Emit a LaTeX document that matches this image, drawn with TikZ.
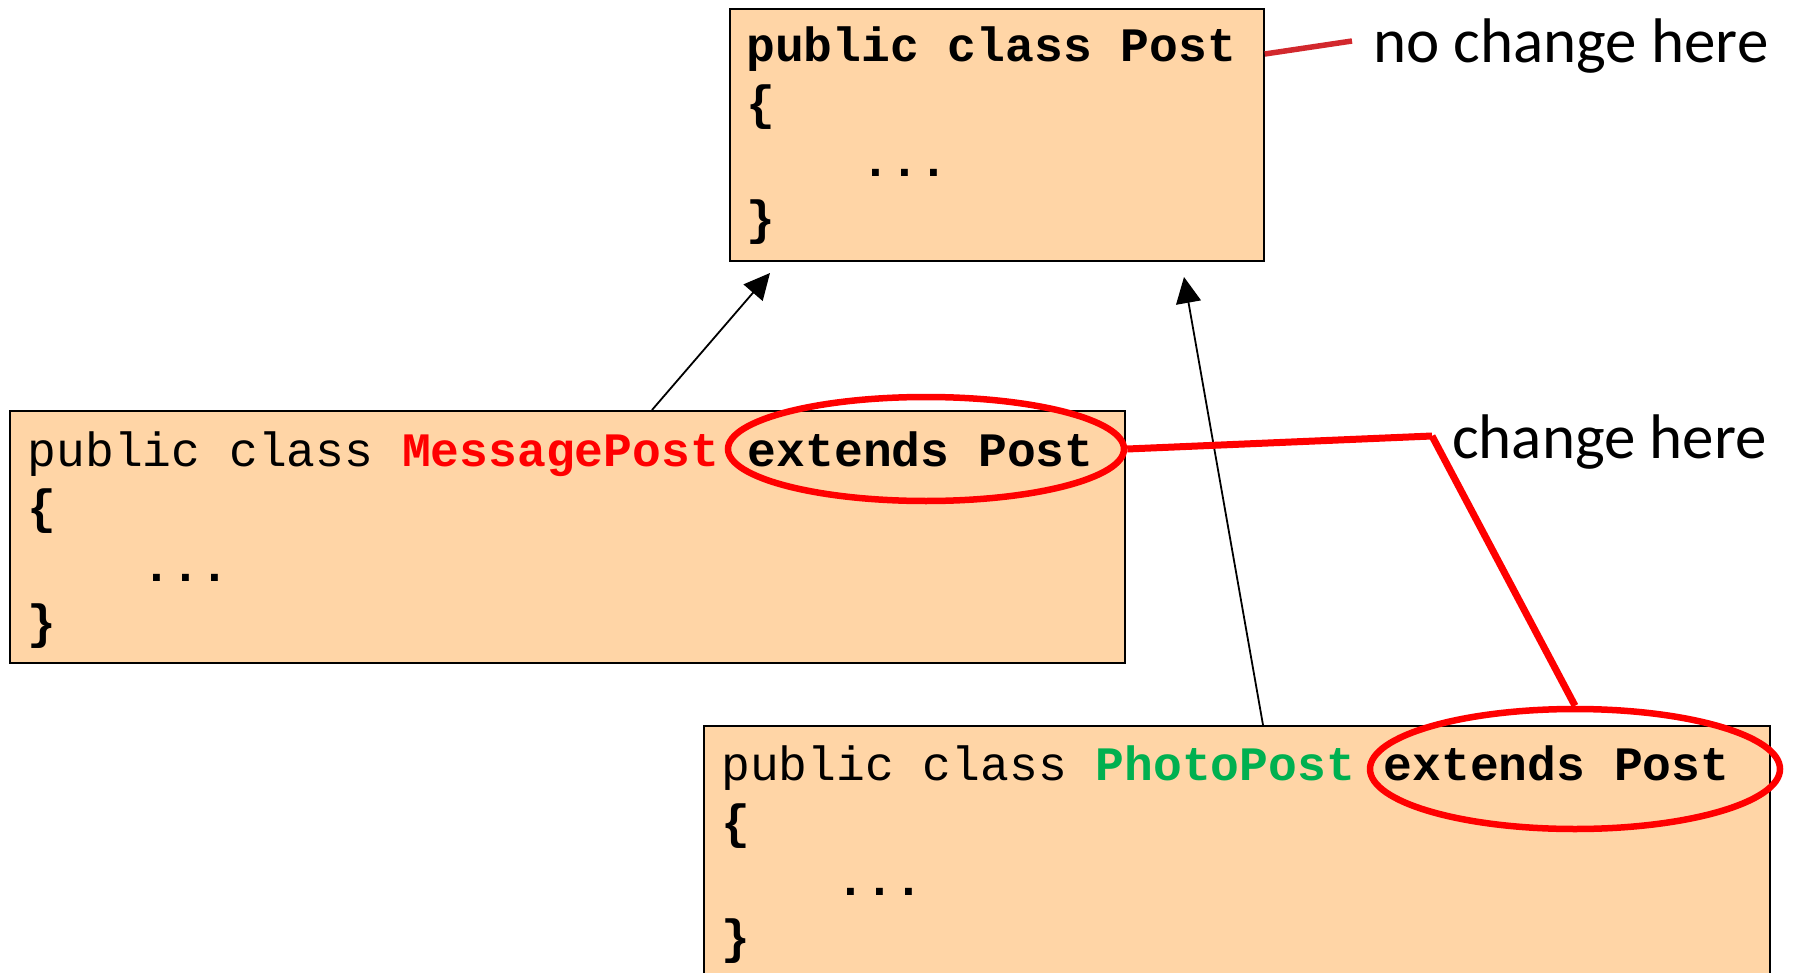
\documentclass[tikz,border=0pt]{standalone}
\usepackage{fontspec}
\setmonofont{Liberation Mono}
\newfontfamily\calib{Carlito}
\usetikzlibrary{arrows.meta,calc,shapes.geometric}
\definecolor{peach}{RGB}{255,213,166}
\definecolor{hlred}{RGB}{255,0,0}
\definecolor{darkred}{RGB}{210,40,45}
\definecolor{pgreen}{RGB}{0,176,80}
\begin{document}
\begin{tikzpicture}[x=1pt,y=-1pt,
  classbox/.style={draw=black,line width=1.8pt,fill=peach,inner sep=0pt,anchor=north west},
  codetext/.style={inner sep=0pt,anchor=base west,font=\ttfamily\fontsize{48}{57.5}\selectfont},
  inherit/.style={-{Triangle[length=26pt,width=25pt]},line width=1.8pt},
  redmark/.style={draw=hlred,line width=7pt},
  ring/.style={draw=hlred,line width=6.5pt,ellipse,inner sep=0pt},
  annot/.style={font=\calib\fontsize{63}{70}\selectfont,inner sep=0pt,anchor=base west}]
\useasboundingbox (0,0) rectangle (1795,973);
\clip (0,0) rectangle (1795,973);
% class boxes
\node[classbox,minimum width=534pt,minimum height=252pt] (post) at (729,8) {};
\node[classbox,minimum width=1115pt,minimum height=252pt] (mp) at (9,410) {};
\node[classbox,minimum width=1066pt,minimum height=300pt] (pp) at (703,725) {};
% code texts
\node[codetext] (posttext) at (746,62) {\vtop{\bfseries
  \hbox{public class Post}
  \hbox{\{}
  \hbox{\phantom{0000}...}
  \hbox{\}}}};
\node[codetext] (mptext) at (27.5,466) {\vtop{
  \hbox{public class \textcolor{hlred}{\bfseries MessagePost} \bfseries extends Post}
  \hbox{\bfseries\{}
  \hbox{\bfseries\phantom{0000}...}
  \hbox{\bfseries\}}}};
\node[codetext] (pptext) at (721,780.5) {\vtop{
  \hbox{public class \textcolor{pgreen}{\bfseries PhotoPost} \bfseries extends Post}
  \hbox{\bfseries\{}
  \hbox{\bfseries\phantom{0000}...}
  \hbox{\bfseries\}}}};
% inheritance arrows
\coordinate (tip1) at (770,273);
\coordinate (tip2) at (1184,277);
\draw[inherit] ($(mp.north west)+(643,0)$) -- (tip1);
\draw[inherit] ($(pp.north west)+(560,0)$) -- (tip2);
% highlight rings
\node[ring,minimum width=396pt,minimum height=104pt] (mpring) at (926,449) {};
\node[ring,minimum width=410pt,minimum height=120pt] (ppring) at (1575,769) {};
% annotations
\coordinate (corner) at (1432,436);
\draw[redmark] (mpring.east) -- (corner);
\draw[redmark] (corner) -- (ppring.north);
\coordinate (nchend) at (1352,41);
\draw[draw=darkred,line width=5.5pt] ($(post.north east)+(0,46)$) -- (nchend);
\node[annot] (nch) at (1373,62.5) {no change here};
\node[annot] (ch) at (1452,458) {change here};
\end{tikzpicture}
\end{document}
